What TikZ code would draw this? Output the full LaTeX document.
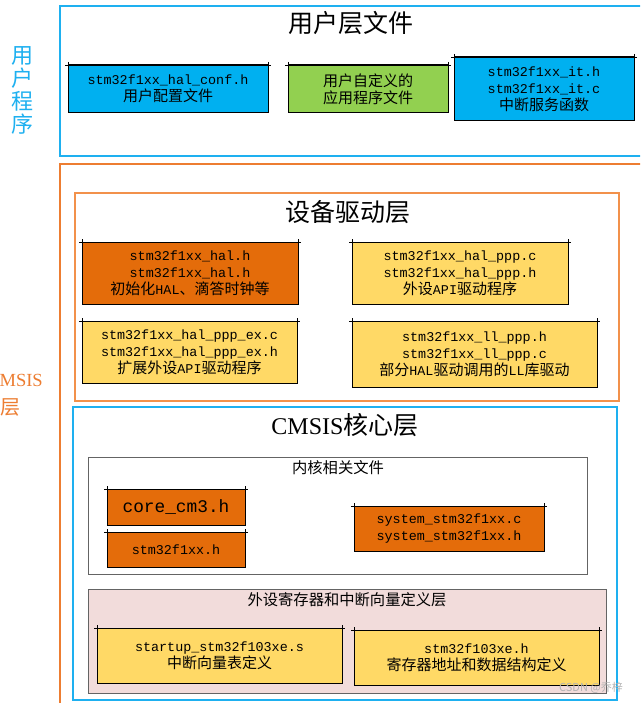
\documentclass[tikz,border=0pt]{standalone}
\usepackage{fontspec}
\setmainfont{Liberation Serif}
\newfontfamily\cjk{Noto Sans CJK SC}
\newfontfamily\mono{Liberation Mono}
\newcommand\zh[1]{{\cjk\fontsize{15}{17}\selectfont #1}}
\definecolor{cyanl}{RGB}{30,176,240}
\definecolor{orangeo}{RGB}{237,125,49}
\definecolor{orangel}{RGB}{242,145,75}
\definecolor{bluef}{RGB}{0,176,240}
\definecolor{greenf}{RGB}{146,208,80}
\definecolor{orangef}{RGB}{228,108,10}
\definecolor{yellowf}{RGB}{255,217,102}
\definecolor{pinkf}{RGB}{242,220,219}
\definecolor{grayl}{RGB}{100,100,100}
\tikzset{
  filebox/.style={draw=black, line width=1pt, inner sep=0pt, outer sep=0pt, align=center,
    font=\fontsize{13.4}{17}\selectfont\mono},
  tick/.style={draw=black, line width=0.8pt},
  frame/.style={inner sep=0pt, outer sep=0pt},
  bigtitle/.style={font=\cjk\fontsize{25}{30}\selectfont, inner sep=0pt},
  subtitle/.style={font=\cjk\fontsize{15.3}{18}\selectfont, inner sep=0pt},
}
\newcommand\fbx[7]{%
  \node[filebox, fill=#6, minimum width={#4pt-#2pt}, minimum height={#5pt-#3pt}] (#1) at ({(#2+#4)/2},{(#3+#5)/2}) {#7};
  \draw[tick] ([xshift=-3pt]#1.north west) -- ([xshift=3pt]#1.north east);
  \draw[tick] ([yshift=3pt]#1.north west) -- (#1.north west);
  \draw[tick] ([yshift=3pt]#1.north east) -- (#1.north east);
}
\begin{document}
\begin{tikzpicture}[x=1pt,y=-1pt]
\useasboundingbox (0,0) rectangle (640,703);
\fill[white] (0,0) rectangle (640,703);
\clip (0,0) rectangle (640,703);

% ---------- user layer ----------
\node[frame, draw=cyanl, line width=2pt, minimum width=600pt, minimum height=150pt] (userlayer) at (360,81) {};
\node[bigtitle] (usertitle) at (351,23) {用户层文件};
\node[font=\cjk\fontsize{22}{23}\selectfont, text=cyanl, align=center, inner sep=0pt] (userprog) at (22,90.5) {用\\户\\程\\序};

\fbx{conf}{68}{65}{268}{113}{bluef}{stm32f1xx\_hal\_conf.h\\\zh{用户配置文件}}
\fbx{app}{288}{65}{448}{113}{greenf}{\zh{用户自定义的}\\\zh{应用程序文件}}
\fbx{it}{454}{57}{634}{121}{bluef}{stm32f1xx\_it.h\\stm32f1xx\_it.c\\\zh{中断服务函数}}

% ---------- CMSIS outer ----------
\node[frame, draw=orangeo, line width=2.5pt, minimum width=600pt, minimum height=600pt] (cmsisouter) at (360,464) {};
\node[font=\fontsize{18.5}{22}\selectfont, text=orangeo, inner sep=0pt] (cmsislbl) at (15,380) {CMSIS};
\node[font=\cjk\fontsize{20}{22}\selectfont, text=orangeo, inner sep=0pt] (cenglbl) at (11,407) {层};

% ---------- device driver layer ----------
\node[frame, draw=orangel, line width=1.3pt, minimum width=544pt, minimum height=208pt] (devlayer) at (347,297) {};
\node[bigtitle] (devtitle) at (348,212) {设备驱动层};

\fbx{hal}{82}{242}{298}{304}{orangef}{stm32f1xx\_hal.h\\stm32f1xx\_hal.h\\\zh{初始化}HAL\zh{、滴答时钟等}}
\fbx{ppp}{352}{242}{568}{304}{yellowf}{stm32f1xx\_hal\_ppp.c\\stm32f1xx\_hal\_ppp.h\\\zh{外设}API\zh{驱动程序}}
\fbx{pppex}{82}{321}{297}{383}{yellowf}{stm32f1xx\_hal\_ppp\_ex.c\\stm32f1xx\_hal\_ppp\_ex.h\\\zh{扩展外设}API\zh{驱动程序}}
\fbx{ll}{352}{321}{597}{387}{yellowf}{stm32f1xx\_ll\_ppp.h\\stm32f1xx\_ll\_ppp.c\\\zh{部分}HAL\zh{驱动调用的}LL\zh{库驱动}}

% ---------- CMSIS core layer ----------
\node[frame, draw=cyanl, line width=1.5pt, minimum width=544pt, minimum height=293pt] (corelayer) at (345,553.5) {};
\node[bigtitle] (coretitle) at (345,425) {{\rmfamily\fontsize{24}{28}\selectfont CMSIS}核心层};

\node[frame, draw=grayl, line width=1pt, fill=white, minimum width=499pt, minimum height=117pt] (kernel) at (337.5,515.5) {};
\node[subtitle] (kerneltitle) at (338,468) {内核相关文件};

\fbx{cm3}{107}{489}{245}{525}{orangef}{{\fontsize{17.8}{20}\selectfont core\_cm3.h}}
\fbx{f1xx}{107}{532}{245}{567}{orangef}{stm32f1xx.h}
\fbx{system}{354}{506}{544}{551}{orangef}{system\_stm32f1xx.c\\system\_stm32f1xx.h}

\node[frame, draw=grayl, line width=1pt, fill=pinkf, minimum width=518pt, minimum height=104pt] (periph) at (347,641) {};
\node[subtitle] (periphtitle) at (347,600) {外设寄存器和中断向量定义层};

\fbx{startup}{97}{628}{342}{683}{yellowf}{startup\_stm32f103xe.s\\\zh{中断向量表定义}}
\fbx{f103}{354}{630}{599}{685}{yellowf}{stm32f103xe.h\\\zh{寄存器地址和数据结构定义}}

\node[font=\cjk\fontsize{11}{13}\selectfont, text=gray!60, inner sep=0pt] (wm) at (591,688) {CSDN @乔梓};
\end{tikzpicture}
\end{document}
